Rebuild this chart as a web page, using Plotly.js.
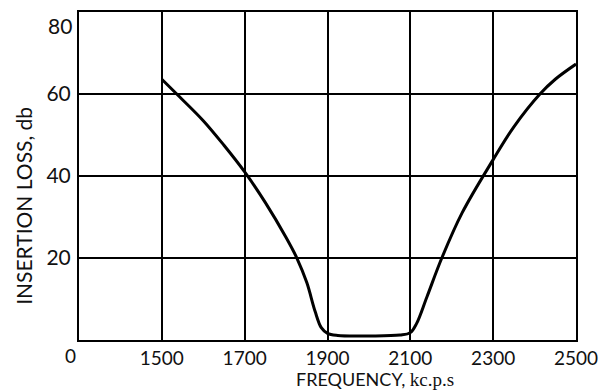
<!DOCTYPE html>
<html>
<head>
<meta charset="utf-8">
<script src="https://cdn.plot.ly/plotly-3.0.1.min.js"></script>
<style>html,body{margin:0;padding:0;background:#fff;}#chart{width:616px;height:391px;}</style>
</head>
<body>
<div id="chart"></div>
<script>
// Frequency (kc.p.s) and insertion loss (db)
const frequency = [1500, 1536, 1600, 1650, 1700, 1750, 1800, 1826, 1850, 1870, 1885, 1900, 1925, 2000, 2075, 2100, 2115, 2140, 2176, 2225, 2300, 2350, 2413, 2450, 2500];
const insertionLoss = [63.6, 60, 53.5, 47.5, 41, 33.5, 25, 20, 14, 7, 3, 1.6, 1.1, 1.0, 1.2, 1.8, 4, 10.5, 20, 31, 44, 52, 60, 63.6, 67.3];
const xTickVals = [1500, 1700, 1900, 2100, 2300, 2500];
const xTickText = ['1500', '1700', '1900', '2100', '2300', '2500'];
const yGridVals = [20, 40, 60, 80];
const yTickText = ['20', '40', '60', ''];
const yTopLabel = '80';

const FONT = 'Lato, "DejaVu Sans", sans-serif';

const trace = {
  x: frequency,
  y: insertionLoss,
  type: 'scatter',
  mode: 'lines',
  line: {color: '#000', width: 3, shape: 'spline', smoothing: 1},
  hoverinfo: 'skip'
};

const layout = {
  width: 616,
  height: 391,
  margin: {l: 79, r: 40, t: 12, b: 51},
  paper_bgcolor: '#fff',
  plot_bgcolor: '#fff',
  showlegend: false,
  font: {family: FONT, color: '#111', size: 21},
  xaxis: {
    range: [1300, 2500.01],
    tickvals: xTickVals,
    ticktext: xTickText,
    showgrid: true,
    gridcolor: '#000',
    gridwidth: 2,
    zeroline: false,
    showline: true,
    linecolor: '#000',
    linewidth: 2,
    mirror: true,
    ticks: '',
    ticklabeloverflow: 'allow',
    ticklabelstandoff: 0,
    tickfont: {family: FONT, size: 19, color: '#111'}
  },
  yaxis: {
    range: [0, 80.01],
    tickvals: yGridVals,
    ticktext: yTickText,
    showgrid: true,
    gridcolor: '#000',
    gridwidth: 2,
    zeroline: false,
    showline: true,
    linecolor: '#000',
    linewidth: 2,
    mirror: true,
    ticks: '',
    ticklabelstandoff: 2,
    ticklabeloverflow: 'allow',
    tickfont: {family: FONT, size: 21, color: '#111'}
  },
  annotations: [
    {text: yTopLabel, xref: 'paper', yref: 'y', x: 0, y: 80, yshift: -13, xshift: -6, xanchor: 'right', yanchor: 'middle', showarrow: false, borderpad: 0, font: {family: FONT, size: 21, color: '#111'}},
    {text: '0', xref: 'paper', yref: 'paper', x: -0.018, y: 0, yshift: -15, xanchor: 'center', yanchor: 'middle', showarrow: false, font: {family: FONT, size: 19, color: '#111'}},
    {text: 'INSERTION LOSS, db', xref: 'paper', yref: 'paper', x: -0.112, y: 0.41, textangle: -90, xanchor: 'center', yanchor: 'middle', showarrow: false, font: {family: FONT, size: 21, color: '#111'}},
    {text: 'FREQUENCY, <span style="font-family:\'Liberation Serif\', serif;font-size:19px">kc.p.s</span>', xref: 'paper', yref: 'paper', x: 0.596, y: 0, yshift: -51, xanchor: 'center', yanchor: 'bottom', showarrow: false, borderpad: 0, font: {family: FONT, size: 18, color: '#111'}}
  ]
};

Plotly.newPlot('chart', [trace], layout, {staticPlot: true, displayModeBar: false});
</script>
</body>
</html>
